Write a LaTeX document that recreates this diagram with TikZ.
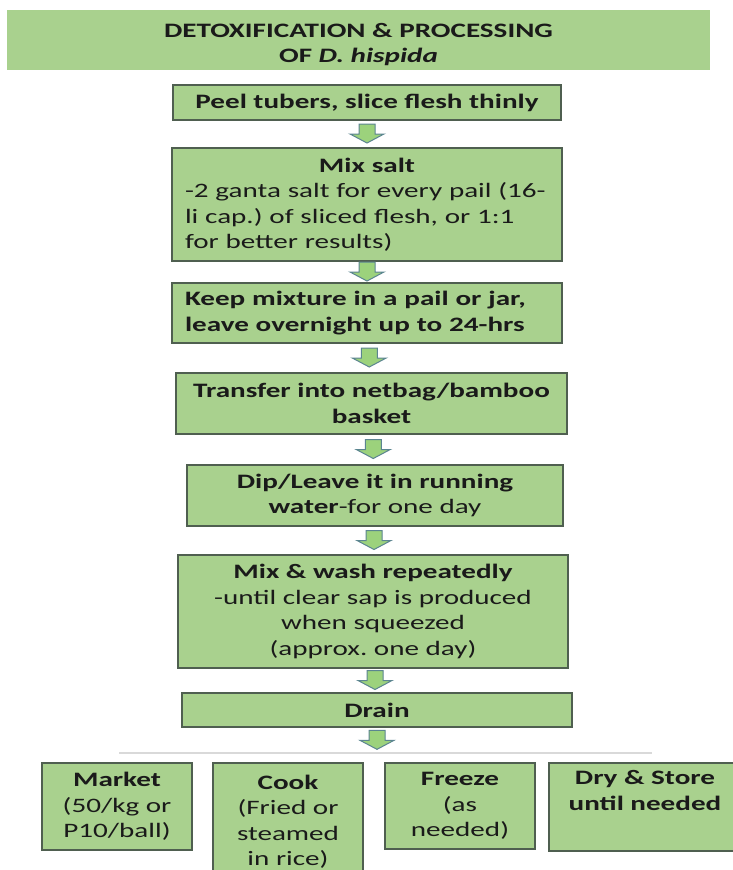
\documentclass[tikz,border=0pt]{standalone}
\usepackage{fontspec}
\setmainfont{Carlito}[FakeStretch=1.42]
\usetikzlibrary{calc}
\frenchspacing
\definecolor{boxfill}{HTML}{A9D18E}
\definecolor{boxline}{HTML}{4F5F50}
\definecolor{arrfill}{HTML}{9CD27C}
\definecolor{arrline}{HTML}{5B8590}
\definecolor{sepline}{HTML}{D9D9D9}
\definecolor{txt}{HTML}{1A1A1A}
\tikzset{
  stepbox/.style={draw=boxline, line width=1.3pt, fill=boxfill, inner sep=0pt, text=txt,
    font=\fontsize{20.5}{25.5}\selectfont, align=center},
  titlebox/.style={fill=boxfill, inner sep=0pt, text=txt, font=\bfseries\fontsize{20.5}{25}\selectfont, align=center},
  dnarrow/.pic={\draw[draw=arrline, fill=arrfill, line width=1pt, line join=miter]
     (-8,-10) -- (8,-10) -- (8,0) -- (17,0) -- (0,9) -- (-17,0) -- (-8,0) -- cycle;}
}
\begin{document}
\begin{tikzpicture}[x=1pt,y=-1pt]
\clip (0,0) rectangle (733,870);
\fill[white] (0,0) rectangle (733,870);

\node[titlebox, minimum width=703pt, minimum height=60pt] (title) at (358.5,40)
  {\rule{0pt}{24pt}DETOXIFICATION \& PROCESSING\\OF \textit{D. hispida}};

\node[stepbox, minimum width=388pt, minimum height=35pt] (b1) at (367,102.5)
  {\bfseries Peel tubers, slice flesh thinly};

\node[stepbox, minimum width=390pt, minimum height=113pt, text width=364pt, align=left] (b2) at (367,204.5)
  {\makebox[\linewidth][c]{\bfseries Mix salt}\\\mbox{-2 ganta salt for every pail (16-}\\\mbox{li cap.) of sliced flesh, or 1:1}\\\mbox{for better results)}};

\node[stepbox, minimum width=390pt, minimum height=60pt, text width=364pt, align=left] (b3) at (367,313)
  {\bfseries \mbox{Keep mixture in a pail or jar,}\\\mbox{leave overnight up to 24-hrs}};

\node[stepbox, minimum width=391pt, minimum height=61pt] (b4) at (371.5,403.5)
  {\bfseries Transfer into netbag/bamboo\\\bfseries basket};

\node[stepbox, minimum width=376pt, minimum height=61pt] (b5) at (375,495.5)
  {\textbf{Dip/Leave it in running}\\\textbf{water}-for one day};

\node[stepbox, minimum width=390pt, minimum height=113pt] (b6) at (373,611.5)
  {\textbf{Mix \& wash repeatedly}\\-until clear sap is produced\\when squeezed\\(approx. one day)};

\node[stepbox, minimum width=390pt, minimum height=34pt] (b7) at (377,710)
  {\bfseries Drain};

\coordinate (sepl) at (119,753);
\coordinate (sepr) at (652,753);
\draw[sepline, line width=2pt] (sepl) -- (sepr);

\node[stepbox, minimum width=150pt, minimum height=87pt] (m1) at (117,806.5)
  {\textbf{Market}\\(50/kg or\\P10/ball)};
\node[stepbox, minimum width=150pt, minimum height=117pt] (m2) at (288,821.5)
  {\textbf{Cook}\\(Fried or\\steamed\\in rice)};
\node[stepbox, minimum width=150pt, minimum height=86pt] (m3) at (460,806)
  {\textbf{Freeze}\\(as\\needed)};
\node[stepbox, minimum width=192pt, minimum height=88pt] (m4) at (645,807)
  {\textbf{Dry \& Store}\\\textbf{until needed}\\\strut};

\pic at ($(b1.south)!0.5!(b2.north)$) {dnarrow};
\pic at ($(b2.south)!0.5!(b3.north)$) {dnarrow};
\pic at ($(b3.south)!0.5!(b4.north)$) {dnarrow};
\pic at ($(b4.south)!0.5!(b5.north)$) {dnarrow};
\pic at ($(b5.south)!0.5!(b6.north)$) {dnarrow};
\pic at ($(b6.south)!0.5!(b7.north)$) {dnarrow};
\pic at ($(b7.south)!0.5!(b7.south |- sepl)$) {dnarrow};
\end{tikzpicture}
\end{document}
